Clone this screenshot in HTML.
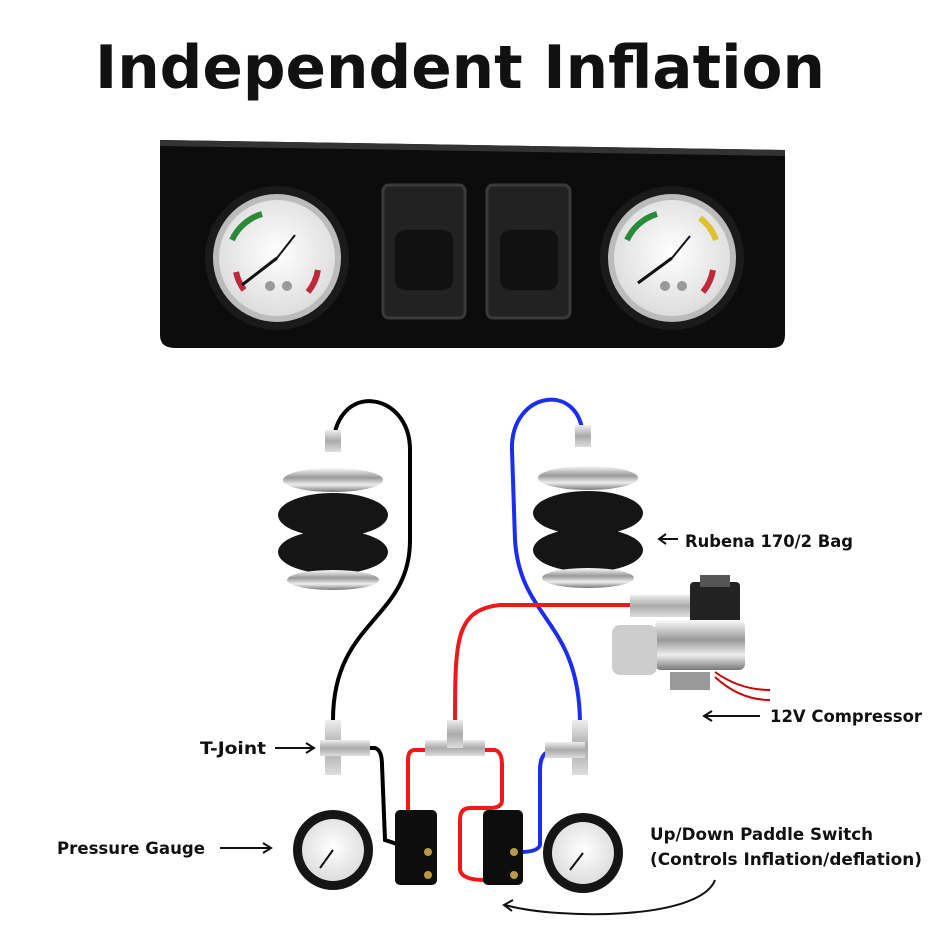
<!DOCTYPE html>
<html><head><meta charset="utf-8"><style>
body{margin:0;background:#fff}
svg{display:block}
text{font-family:"DejaVu Sans","Liberation Sans",sans-serif}
</style></head><body>
<svg width="950" height="950" viewBox="0 0 950 950" xmlns="http://www.w3.org/2000/svg">
<defs>
<radialGradient id="face" cx="50%" cy="45%" r="55%"><stop offset="0" stop-color="#fff"/><stop offset="1" stop-color="#ddd"/></radialGradient>
<linearGradient id="metal" x1="0" x2="0" y1="0" y2="1"><stop offset="0" stop-color="#eee"/><stop offset=".5" stop-color="#aaa"/><stop offset="1" stop-color="#ddd"/></linearGradient>
<linearGradient id="chrome" x1="0" x2="0" y1="0" y2="1"><stop offset="0" stop-color="#fafafa"/><stop offset=".4" stop-color="#999"/><stop offset=".7" stop-color="#eee"/><stop offset="1" stop-color="#777"/></linearGradient>
</defs>
<text x="95" y="88" font-size="60" font-weight="bold" fill="#111" textLength="730" lengthAdjust="spacingAndGlyphs">Independent Inflation</text>

<!-- panel -->
<path d="M160 140 L785 150 L785 335 Q785 348 772 348 L175 348 Q160 348 160 335 Z" fill="#0c0c0c"/>
<path d="M160 140 L785 150 L785 156 L160 146 Z" fill="#333"/>
<g>
<circle cx="277" cy="258" r="72" fill="#1a1a1a"/><circle cx="277" cy="258" r="64" fill="#bbb"/><circle cx="277" cy="258" r="58" fill="url(#face)"/>
<path d="M232 240 A48 48 0 0 1 262 214" stroke="#2a8a3a" stroke-width="6" fill="none"/>
<path d="M318 270 A48 48 0 0 1 308 292" stroke="#c0283a" stroke-width="6" fill="none"/>
<path d="M236 272 A48 48 0 0 0 244 290" stroke="#c0283a" stroke-width="6" fill="none"/>
<line x1="277" y1="258" x2="242" y2="285" stroke="#111" stroke-width="3"/><line x1="277" y1="258" x2="295" y2="235" stroke="#111" stroke-width="2"/>
<circle cx="270" cy="286" r="5" fill="#999"/><circle cx="287" cy="286" r="5" fill="#999"/>
</g>
<g>
<circle cx="672" cy="258" r="72" fill="#1a1a1a"/><circle cx="672" cy="258" r="64" fill="#bbb"/><circle cx="672" cy="258" r="58" fill="url(#face)"/>
<path d="M627 240 A48 48 0 0 1 657 214" stroke="#2a8a3a" stroke-width="6" fill="none"/>
<path d="M700 218 A48 48 0 0 1 716 240" stroke="#e0c030" stroke-width="6" fill="none"/>
<path d="M713 270 A48 48 0 0 1 703 292" stroke="#c0283a" stroke-width="6" fill="none"/>
<line x1="672" y1="258" x2="638" y2="283" stroke="#111" stroke-width="3"/><line x1="672" y1="258" x2="690" y2="236" stroke="#111" stroke-width="2"/>
<circle cx="665" cy="286" r="5" fill="#999"/><circle cx="682" cy="286" r="5" fill="#999"/>
</g>
<rect x="383" y="185" width="82" height="133" rx="6" fill="#222" stroke="#3a3a3a" stroke-width="3"/>
<rect x="395" y="230" width="58" height="60" rx="10" fill="#111"/>
<rect x="487" y="185" width="83" height="133" rx="6" fill="#222" stroke="#3a3a3a" stroke-width="3"/>
<rect x="500" y="230" width="58" height="60" rx="10" fill="#111"/>

<!-- hoses -->
<path d="M333 450 C333 380 410 390 410 450 L410 540 C410 620 333 620 333 720" stroke="#000" stroke-width="4" fill="none"/>
<path d="M583 440 C583 380 510 390 512 450 L515 540 C520 620 580 620 580 725" stroke="#1b2df0" stroke-width="4" fill="none"/>
<path d="M630 605 L500 605 C455 610 455 640 455 725" stroke="#f01818" stroke-width="4" fill="none"/>
<path d="M345 748 L375 748 Q382 750 382 765 L385 840 L400 845" stroke="#000" stroke-width="4" fill="none"/>
<path d="M428 750 L415 750 Q408 750 408 760 L408 830 Q410 842 428 845" stroke="#f01818" stroke-width="4" fill="none"/>
<path d="M482 750 L495 750 Q502 752 502 765 L502 800 Q502 808 490 808 L470 808 Q460 808 460 820 L460 870 Q462 880 485 880" stroke="#f01818" stroke-width="4" fill="none"/>
<path d="M565 752 L548 752 Q540 755 540 770 L540 845 Q538 852 520 852" stroke="#1b2df0" stroke-width="4" fill="none"/>

<!-- bags -->
<g>
<rect x="325" y="430" width="16" height="22" fill="url(#metal)"/>
<ellipse cx="333" cy="480" rx="50" ry="12" fill="url(#chrome)"/>
<ellipse cx="333" cy="515" rx="55" ry="22" fill="#151515"/>
<ellipse cx="333" cy="552" rx="55" ry="22" fill="#151515"/>
<ellipse cx="333" cy="580" rx="46" ry="10" fill="url(#chrome)"/>
</g>
<g>
<rect x="575" y="425" width="16" height="22" fill="url(#metal)"/>
<ellipse cx="588" cy="478" rx="50" ry="12" fill="url(#chrome)"/>
<ellipse cx="588" cy="513" rx="55" ry="22" fill="#151515"/>
<ellipse cx="588" cy="550" rx="55" ry="22" fill="#151515"/>
<ellipse cx="588" cy="578" rx="46" ry="10" fill="url(#chrome)"/>
</g>

<!-- compressor -->
<rect x="630" y="595" width="60" height="22" fill="url(#metal)"/>
<rect x="690" y="582" width="50" height="42" rx="4" fill="#222"/>
<rect x="700" y="575" width="30" height="12" fill="#555"/>
<rect x="655" y="620" width="90" height="50" rx="6" fill="url(#chrome)"/>
<rect x="612" y="625" width="45" height="50" rx="8" fill="#ccc"/>
<rect x="670" y="672" width="40" height="18" fill="#999"/>
<path d="M715 672 Q740 690 770 690 M715 677 Q740 700 770 700" stroke="#c00" stroke-width="2" fill="none"/>

<!-- T joints -->
<g fill="url(#metal)"><rect x="325" y="720" width="16" height="55"/><rect x="320" y="740" width="50" height="16"/></g>
<g fill="url(#metal)"><rect x="425" y="740" width="60" height="16"/><rect x="447" y="720" width="16" height="28"/></g>
<g fill="url(#metal)"><rect x="572" y="720" width="16" height="55"/><rect x="545" y="742" width="40" height="16"/></g>

<!-- bottom gauges -->
<circle cx="333" cy="850" r="40" fill="#151515"/><circle cx="333" cy="850" r="31" fill="url(#face)"/>
<line x1="333" y1="850" x2="320" y2="868" stroke="#111" stroke-width="2"/>
<circle cx="583" cy="853" r="40" fill="#151515"/><circle cx="583" cy="853" r="31" fill="url(#face)"/>
<line x1="583" y1="853" x2="570" y2="870" stroke="#111" stroke-width="2"/>

<!-- switches -->
<rect x="395" y="810" width="42" height="75" rx="5" fill="#0d0d0d"/>
<circle cx="428" cy="852" r="4" fill="#b89a40"/><circle cx="428" cy="875" r="4" fill="#b89a40"/>
<rect x="483" y="810" width="40" height="75" rx="5" fill="#0d0d0d"/>
<circle cx="514" cy="852" r="4" fill="#b89a40"/><circle cx="514" cy="875" r="4" fill="#b89a40"/>

<!-- labels -->
<g font-size="17" font-weight="bold" fill="#111">
<text x="685" y="547" textLength="168" lengthAdjust="spacingAndGlyphs">Rubena 170/2 Bag</text>
<text x="770" y="722" textLength="152" lengthAdjust="spacingAndGlyphs">12V Compressor</text>
<text x="200" y="754" textLength="66" lengthAdjust="spacingAndGlyphs">T-Joint</text>
<text x="57" y="854" textLength="148" lengthAdjust="spacingAndGlyphs">Pressure Gauge</text>
<text x="650" y="840" textLength="223" lengthAdjust="spacingAndGlyphs">Up/Down Paddle Switch</text>
<text x="650" y="865" textLength="272" lengthAdjust="spacingAndGlyphs">(Controls Inflation/deflation)</text>
</g>
<g stroke="#111" stroke-width="2" fill="none">
<path d="M678 539 L660 539 M666 534 L659 539 L666 544"/>
<path d="M760 716 L705 716 M712 711 L704 716 L712 721"/>
<path d="M275 748 L313 748 M306 743 L314 748 L306 753"/>
<path d="M220 848 L270 848 M263 843 L271 848 L263 853"/>
<path d="M715 880 C700 920 560 920 505 905 M513 900 L504 905 L512 911"/>
</g>
</svg>
</body></html>
